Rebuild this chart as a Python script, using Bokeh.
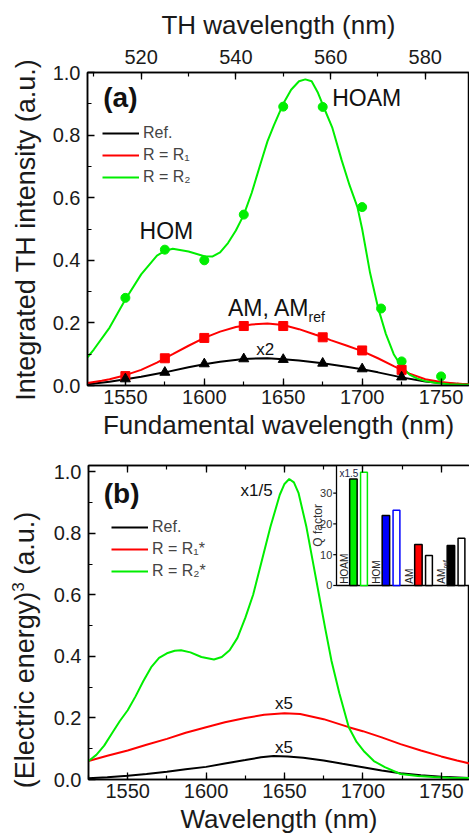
import math
from bokeh.plotting import figure
from bokeh.models import (Range1d, LinearAxis, SingleIntervalTicker, Legend, LegendItem,
                          Label, NumeralTickFormatter, Div)
from bokeh.layouts import column, row
from bokeh.embed import file_html
from bokeh.resources import INLINE
from bokeh.core.properties import value

FONT = "Liberation Sans"
GREEN = "#00ee00"
RED = "#ff0000"
BLUE = "#0000ff"
BLACK = "#000000"
STRIP_W = 46

# ---------------- Panel (a) data ----------------
a_pts_x = [1550, 1575, 1600, 1625, 1650, 1675, 1700, 1725]
a_ref_pts = [0.021, 0.042, 0.069, 0.085, 0.083, 0.071, 0.053, 0.027]
a_r1_pts = [0.03, 0.087, 0.152, 0.19, 0.19, 0.154, 0.112, 0.05]
a_r2_pts_x = [1550, 1575, 1600, 1625, 1650, 1675, 1700, 1712, 1725, 1750]
a_r2_pts = [0.28, 0.434, 0.40, 0.546, 0.891, 0.89, 0.57, 0.246, 0.077, 0.029]

a_ref_fx = [1526, 1540, 1550, 1560, 1575, 1590, 1600, 1610, 1625, 1640, 1650, 1660, 1675,
            1690, 1700, 1710, 1725, 1740, 1750, 1768]
a_ref_fy = [0.004, 0.012, 0.02, 0.028, 0.042, 0.058, 0.068, 0.076, 0.085, 0.087, 0.084, 0.08,
            0.071, 0.06, 0.052, 0.042, 0.026, 0.013, 0.008, 0.003]

a_r1_fx = [1526, 1535, 1540, 1550, 1560, 1570, 1575, 1580, 1590, 1600, 1610, 1620, 1625, 1630,
           1640, 1650, 1660, 1670, 1675, 1680, 1690, 1700, 1710, 1720, 1725, 1730, 1740, 1750,
           1760, 1768]
a_r1_fy = [0.008, 0.015, 0.02, 0.033, 0.05, 0.073, 0.087, 0.1, 0.127, 0.152, 0.172, 0.187, 0.191,
           0.195, 0.198, 0.193, 0.18, 0.163, 0.155, 0.145, 0.128, 0.11, 0.087, 0.062, 0.05, 0.038,
           0.02, 0.011, 0.006, 0.003]

a_r2_fx = [1526, 1530, 1540, 1550, 1560, 1570, 1575, 1580, 1590, 1600, 1605, 1610, 1615, 1620,
           1625, 1630, 1636, 1640, 1644, 1650, 1655, 1660, 1664, 1668, 1672, 1676, 1681, 1687,
           1692, 1697, 1700, 1705, 1710, 1715, 1720, 1725, 1730, 1735, 1740, 1747, 1755, 1768]
a_r2_fy = [0.09, 0.115, 0.185, 0.275, 0.355, 0.415, 0.43, 0.437, 0.428, 0.413, 0.412, 0.425,
           0.455, 0.495, 0.545, 0.615, 0.715, 0.78, 0.83, 0.9, 0.945, 0.972, 0.978, 0.972, 0.935,
           0.885, 0.825, 0.72, 0.64, 0.57, 0.50, 0.36, 0.25, 0.165, 0.10, 0.06, 0.035, 0.022,
           0.014, 0.008, 0.004, 0.002]

# ---------------- Panel (b) data ----------------
b_ref_x = [1525, 1537, 1550, 1562, 1575, 1587, 1600, 1612, 1625, 1635, 1643, 1652, 1662, 1675,
           1687, 1700, 1712, 1724, 1737, 1750, 1768]
b_ref_y = [0.004, 0.007, 0.012, 0.018, 0.025, 0.033, 0.041, 0.052, 0.063, 0.072, 0.076, 0.075,
           0.071, 0.062, 0.051, 0.04, 0.029, 0.02, 0.014, 0.009, 0.005]

b_r1_x = [1525, 1537, 1550, 1562, 1575, 1587, 1600, 1612, 1625, 1637, 1650, 1660, 1675, 1691,
          1700, 1712, 1724, 1737, 1750, 1760, 1768]
b_r1_y = [0.06, 0.077, 0.094, 0.113, 0.132, 0.152, 0.17, 0.186, 0.2, 0.21, 0.215, 0.213, 0.196,
          0.17, 0.157, 0.137, 0.115, 0.094, 0.075, 0.062, 0.052]

b_r2_x = [1525, 1530, 1535, 1540, 1545, 1550, 1555, 1560, 1565, 1570, 1575, 1580, 1584, 1590,
          1597, 1605, 1610, 1615, 1620, 1625, 1630, 1635, 1641, 1647, 1650, 1653, 1656, 1659,
          1664, 1668, 1672, 1676, 1680, 1685, 1691, 1696, 1701, 1707, 1714, 1724, 1735, 1745,
          1755, 1768]
b_r2_y = [0.06, 0.08, 0.11, 0.15, 0.19, 0.225, 0.27, 0.32, 0.365, 0.395, 0.41, 0.418, 0.42, 0.413,
          0.398, 0.39, 0.398, 0.42, 0.46, 0.525, 0.6, 0.7, 0.82, 0.925, 0.96, 0.976, 0.965, 0.93,
          0.82, 0.71, 0.6, 0.49, 0.385, 0.28, 0.17, 0.122, 0.09, 0.06, 0.04, 0.018, 0.011, 0.008,
          0.006, 0.005]

# ---------------- Inset (Q factor) data ----------------
q_cats = ["HOAM", "HOM", "AM", "AM"]
q_cat_sub = ["", "", "", "ref"]
q_filled = [34.6, 22.7, 13.3, 13.0]
q_open = [36.8, 24.4, 9.7, 15.3]
q_fill_colors = [GREEN, BLUE, RED, BLACK]
q_open_colors = [GREEN, BLUE, BLACK, BLACK]
q_ticks = [0, 10, 20, 30]


def style_axis(ax, labels=True):
    ax.axis_line_color = "black"
    ax.axis_line_width = 1.5
    ax.major_tick_in = 7
    ax.major_tick_out = 0
    ax.minor_tick_in = 4
    ax.minor_tick_out = 0
    ax.major_tick_line_color = "black"
    ax.minor_tick_line_color = "black"
    ax.major_tick_line_width = 1.3
    ax.minor_tick_line_width = 1.2
    ax.major_label_text_font = FONT
    ax.major_label_text_font_size = "20px"
    ax.major_label_text_color = "#1a1a1a"
    ax.axis_label_text_font = FONT
    ax.axis_label_text_font_size = "26px"
    ax.axis_label_text_font_style = "normal"
    ax.axis_label_text_color = "#1a1a1a"
    ax.major_label_standoff = 4
    ax.axis_label_standoff = 3
    if not labels:
        ax.major_label_text_alpha = 0
        ax.major_label_text_font_size = "1px"
        ax.major_label_standoff = 0


def base_fig(height, xr, yr, bl, bt, bb):
    p = figure(width=469 - STRIP_W, height=height, x_range=xr, y_range=yr,
               output_backend="svg", toolbar_location=None,
               min_border_left=bl, min_border_right=0, min_border_top=bt, min_border_bottom=bb)
    p.grid.visible = False
    p.outline_line_color = "black"
    p.outline_line_width = 1.5
    p.background_fill_color = "white"
    p.border_fill_color = "white"
    p.xaxis.ticker = SingleIntervalTicker(interval=50, num_minor_ticks=2)
    p.yaxis.ticker = SingleIntervalTicker(interval=0.2, num_minor_ticks=2)
    p.yaxis.formatter = NumeralTickFormatter(format="0.0")
    for ax in p.xaxis + p.yaxis:
        style_axis(ax)
    p.yaxis.major_label_standoff = 7
    return p


def title_strip(height, text, cx, cy):
    """Narrow strip left of a panel carrying its rotated y-axis title (real text)."""
    pad = 2 * cy - height  # puts the text centre at cy (measured from the top)
    inner = ("<div style=\"width:%dpx;height:40px;line-height:40px;box-sizing:border-box;"
             "padding-right:%dpx;transform-origin:0 0;transform:translate(%dpx,%dpx) "
             "rotate(-90deg);text-align:center;white-space:nowrap;"
             "font-family:'Liberation Sans';font-size:27px;color:#1a1a1a;\">%s</div>"
             % (height, max(pad, 0), cx - 20, height, text))
    return Div(text=inner, width=STRIP_W, height=height, margin=0,
               styles={"overflow": "visible"})


def add_label(p, x, y, text, size, align="left", style="normal"):
    p.add_layout(Label(x=x, y=y, text=text, text_font=FONT, text_font_size=size,
                       text_align=align, text_baseline="middle", text_font_style=style,
                       text_color="#111111"))


# ================= Panel (a) =================
p1 = base_fig(443, Range1d(1526, 1768), Range1d(0, 1.0), 87 - STRIP_W, 72, 58)
p1.xaxis.axis_label = "Fundamental wavelength (nm)"
p1.extra_x_ranges = {"th": Range1d(1526 / 3.0, 1768 / 3.0)}
top_ax = LinearAxis(x_range_name="th", axis_label="TH wavelength (nm)",
                    ticker=SingleIntervalTicker(interval=20, num_minor_ticks=2))
style_axis(top_ax)
top_ax.major_label_standoff = 9
top_ax.axis_label_standoff = 7
p1.add_layout(top_ax, "above")

l_ref = p1.line(a_ref_fx, a_ref_fy, line_color=BLACK, line_width=2)
l_r1 = p1.line(a_r1_fx, a_r1_fy, line_color=RED, line_width=2)
l_r2 = p1.line(a_r2_fx, a_r2_fy, line_color=GREEN, line_width=2)
p1.scatter(a_r2_pts_x, a_r2_pts, marker="circle", size=9, fill_color=GREEN, line_color=GREEN)
p1.scatter(a_pts_x, a_r1_pts, marker="square", size=9, fill_color=RED, line_color=RED)
p1.scatter(a_pts_x, a_ref_pts, marker="triangle", size=10, fill_color=BLACK, line_color=BLACK)

leg1 = Legend(items=[LegendItem(label="Ref.", renderers=[l_ref]),
                     LegendItem(label="R = R\u2081", renderers=[l_r1]),
                     LegendItem(label="R = R\u2082", renderers=[l_r2])],
              location=(15, 198), label_text_font=FONT, label_text_font_size="16px",
              glyph_width=37, glyph_height=20, label_height=20, spacing=2, padding=0,
              margin=0, border_line_alpha=0, background_fill_alpha=0, label_standoff=4)
p1.add_layout(leg1)

add_label(p1, 1536, 0.92, "(a)", "28px", style="bold")
add_label(p1, 1681, 0.92, "HOAM", "23px")
add_label(p1, 1576, 0.495, "HOM", "23px", align="center")
add_label(p1, 1615, 0.249, "AM, AM", "23px")
add_label(p1, 1666, 0.218, "ref", "14px")
add_label(p1, 1638.6, 0.115, "x2", "17px", align="center")

s1 = title_strip(443, "Integrated TH intensity (a.u.)", 26, 230)

# ================= Panel (b) =================
p2 = base_fig(394, Range1d(1525, 1768), Range1d(0, 1.02), 88 - STRIP_W, 22, 58)
p2.xaxis.axis_label = "Wavelength (nm)"
top_b = LinearAxis(ticker=SingleIntervalTicker(interval=50, num_minor_ticks=2))
style_axis(top_b, labels=False)
p2.add_layout(top_b, "above")

m_ref = p2.line(b_ref_x, b_ref_y, line_color=BLACK, line_width=2)
m_r1 = p2.line(b_r1_x, b_r1_y, line_color=RED, line_width=2)
m_r2 = p2.line(b_r2_x, b_r2_y, line_color=GREEN, line_width=2)

leg2 = Legend(items=[LegendItem(label="Ref.", renderers=[m_ref]),
                     LegendItem(label="R = R\u2081*", renderers=[m_r1]),
                     LegendItem(label="R = R\u2082*", renderers=[m_r2])],
              location=(23, 198), label_text_font=FONT, label_text_font_size="16px",
              glyph_width=37, glyph_height=20, label_height=20, spacing=2, padding=0,
              margin=0, border_line_alpha=0, background_fill_alpha=0, label_standoff=4)
p2.add_layout(leg2)

add_label(p2, 1534.7, 0.93, "(b)", "28px", style="bold")
add_label(p2, 1622, 0.94, "x1/5", "17px")
add_label(p2, 1649.6, 0.247, "x5", "17px", align="center")
add_label(p2, 1649.6, 0.104, "x5", "17px", align="center")

s2 = title_strip(394, "(Electric energy)<sup style=\"font-size:17px;line-height:0\">3</sup>"
                 " (a.u.)", 25, 650 - 443)

# ---- inset drawn in its own coordinate system (extra ranges) ----
p2.extra_x_ranges = {"ix": Range1d(-7.631, 4.092)}
p2.extra_y_ranges = {"iy": Range1d(-63.0, 38.96)}
IK = dict(x_range_name="ix", y_range_name="iy")
p2.quad(left=[0], right=[5], bottom=[0], top=[45], fill_color="white",
        line_color="black", line_width=1.3, **IK)
n = len(q_cats)
p2.vbar(x=[i + 0.52 for i in range(n)], width=0.23, top=q_filled, bottom=0,
        fill_color=q_fill_colors, line_color="black", line_width=1.5, **IK)
p2.vbar(x=[i + 0.845 for i in range(n)], width=0.21, top=q_open, bottom=0,
        fill_color="white", line_color=q_open_colors, line_width=1.5, **IK)
p2.segment(x0=[-0.1] * len(q_ticks), x1=[0] * len(q_ticks), y0=q_ticks, y1=q_ticks,
           line_color="black", line_width=1.2, **IK)
p2.text(x=[-0.13] * len(q_ticks), y=q_ticks, text=[str(t) for t in q_ticks],
        text_align="right", text_baseline="middle", text_font=value(FONT),
        text_font_size="11px", text_color="#333333", **IK)
p2.text(x=[-0.58], y=[19.5], text=["Q factor"], angle=math.pi / 2, text_align="center",
        text_baseline="middle", text_font=value(FONT), text_font_size="12px",
        text_color="#333333", **IK)
p2.text(x=[i + 0.24 for i in range(n)], y=[0.6] * n, text=q_cats, angle=math.pi / 2,
        text_align="left", text_baseline="middle", text_font=value(FONT),
        text_font_size="10px", text_color="#222222", **IK)
p2.text(x=[i + 0.34 for i in range(n)], y=[5.6] * n, text=q_cat_sub, angle=math.pi / 2,
        text_align="left", text_baseline="middle", text_font=value(FONT),
        text_font_size="7px", text_color="#222222", **IK)
p2.text(x=[0.09], y=[36.5], text=["x1.5"], text_align="left", text_baseline="middle",
        text_font=value(FONT), text_font_size="10px", text_color="#222244", **IK)

layout = column(row(s1, p1, spacing=0), row(s2, p2, spacing=0), spacing=0)
open("out.html", "w").write(file_html(layout, INLINE))
